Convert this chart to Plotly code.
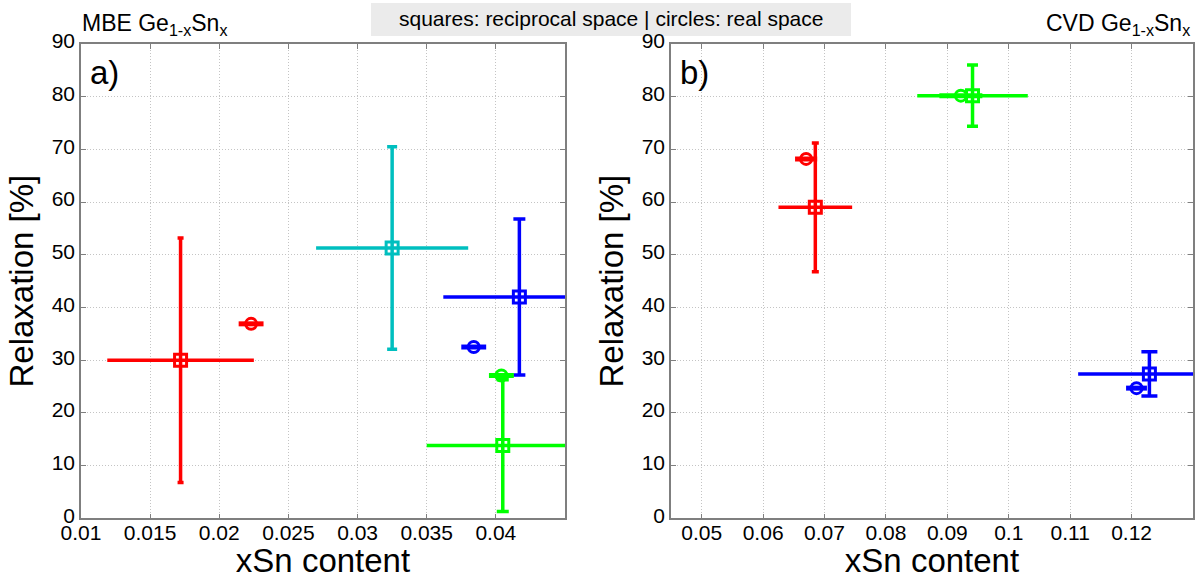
import plotly.graph_objects as go

W, H = 1197, 579

COLORS = {"red": "#FF0000", "green": "#00FF00", "blue": "#0000FF", "cyan": "#00BFBF"}

# ---- Panel a) MBE GeSn ----
A_SQ_COLOR = ["red", "cyan", "blue", "green"]
A_SQ_X = [0.0172, 0.0325, 0.0417, 0.0405]
A_SQ_Y = [30.0, 51.3, 42.0, 13.8]
A_SQ_XERR = [0.0053, 0.0055, 0.0055, 0.0055]
A_SQ_YERR = [23.2, 19.2, 14.8, 12.5]

A_CI_COLOR = ["red", "blue", "green"]
A_CI_X = [0.0223, 0.0384, 0.0404]
A_CI_Y = [36.9, 32.5, 27.1]
A_CI_XERR = [0.0009, 0.0009, 0.0009]

# ---- Panel b) CVD GeSn ----
B_SQ_COLOR = ["red", "green", "blue"]
B_SQ_X = [0.0685, 0.0941, 0.1229]
B_SQ_Y = [59.0, 80.2, 27.4]
B_SQ_XERR = [0.0060, 0.0090, 0.0116]
B_SQ_YERR = [12.2, 5.8, 4.2]

B_CI_COLOR = ["red", "green", "blue"]
B_CI_X = [0.0670, 0.0922, 0.1208]
B_CI_Y = [68.2, 80.2, 24.7]
B_CI_XERR = [0.0018, 0.0035, 0.0017]

A_XTICKS = [0.01, 0.015, 0.02, 0.025, 0.03, 0.035, 0.04]
A_XTICKTEXT = ["0.01", "0.015", "0.02", "0.025", "0.03", "0.035", "0.04"]
B_XTICKS = [0.05, 0.06, 0.07, 0.08, 0.09, 0.1, 0.11, 0.12]
B_XTICKTEXT = ["0.05", "0.06", "0.07", "0.08", "0.09", "0.1", "0.11", "0.12"]
YTICKS = [0, 10, 20, 30, 40, 50, 60, 70, 80, 90]

# style-only lists (cap half-widths in px)
A_SQ_CAP = [3, 5, 6, 6]
B_SQ_CAP = [3.5, 5.5, 8]

FONT = "Liberation Sans, Arial, sans-serif"

fig = go.Figure()


def add_squares(xs, ys, xe, ye, cols, caps, xa, ya):
    for x, y, ex, ey, c, cap in zip(xs, ys, xe, ye, cols, caps):
        col = COLORS[c]
        fig.add_trace(go.Scatter(
            x=[x], y=[y], mode="markers", xaxis=xa, yaxis=ya, showlegend=False,
            marker=dict(symbol="square-open", size=12, color=col, line=dict(width=3, color=col)),
            error_x=dict(type="data", array=[ex], color=col, thickness=3.5, width=0),
            error_y=dict(type="data", array=[ey], color=col, thickness=3.5, width=cap),
        ))


def add_circles(xs, ys, xe, cols, xa, ya):
    for x, y, ex, c in zip(xs, ys, xe, cols):
        col = COLORS[c]
        fig.add_trace(go.Scatter(
            x=[x], y=[y], mode="markers", xaxis=xa, yaxis=ya, showlegend=False,
            marker=dict(symbol="circle-open", size=11, color=col, line=dict(width=3, color=col)),
            error_x=dict(type="data", array=[ex], color=col, thickness=5, width=0),
        ))


add_squares(A_SQ_X, A_SQ_Y, A_SQ_XERR, A_SQ_YERR, A_SQ_COLOR, A_SQ_CAP, "x", "y")
add_circles(A_CI_X, A_CI_Y, A_CI_XERR, A_CI_COLOR, "x", "y")
add_squares(B_SQ_X, B_SQ_Y, B_SQ_XERR, B_SQ_YERR, B_SQ_COLOR, B_SQ_CAP, "x2", "y2")
add_circles(B_CI_X, B_CI_Y, B_CI_XERR, B_CI_COLOR, "x2", "y2")

ydom = [1 - 518.3 / H, 1 - 44 / H]

common_x = dict(
    showgrid=True, gridcolor="#c4c4c4", griddash="1px,2px", gridwidth=1,
    showline=True, linecolor="#7f7f7f", linewidth=1.5, mirror="ticks",
    ticks="inside", ticklen=5, tickcolor="#7f7f7f", zeroline=False,
    tickfont=dict(size=21, color="black", family=FONT), ticklabelstandoff=-5,
    title=dict(text="xSn content", font=dict(size=33, color="black", family=FONT), standoff=2),
    automargin=False,
)
common_y = dict(
    showgrid=True, gridcolor="#c4c4c4", griddash="1px,2px", gridwidth=1,
    showline=True, linecolor="#7f7f7f", linewidth=1.5, mirror="ticks",
    ticks="inside", ticklen=5, tickcolor="#7f7f7f", zeroline=False,
    tickfont=dict(size=21, color="black", family=FONT), ticklabelshift=-3,
    title=dict(text="Relaxation [%]", font=dict(size=33, color="black", family=FONT), standoff=8),
    range=[0, 90], tickvals=YTICKS, domain=ydom, automargin=False,
)

fig.update_layout(
    width=W, height=H,
    margin=dict(l=0, r=0, t=0, b=0),
    paper_bgcolor="white", plot_bgcolor="white",
    font=dict(family=FONT, color="black"),
    xaxis=dict(common_x, domain=[81 / W, 565 / W], range=[0.01, 0.045],
               tickvals=A_XTICKS, ticktext=A_XTICKTEXT, anchor="y"),
    yaxis=dict(common_y, anchor="x"),
    xaxis2=dict(common_x, domain=[671 / W, 1193 / W], range=[0.045, 0.13],
                tickvals=B_XTICKS, ticktext=B_XTICKTEXT, anchor="y2"),
    yaxis2=dict(common_y, anchor="x2"),
    showlegend=False,
)

fig.add_shape(type="rect", xref="paper", yref="paper",
              x0=371 / W, x1=851 / W, y0=1 - 36 / H, y1=1 - 3 / H,
              fillcolor="#EBEBEB", line=dict(width=0), layer="below")

annots = [
    dict(text="squares: reciprocal space | circles: real space", x=611 / W, y=1 - 19 / H,
         xanchor="center", yanchor="middle", font=dict(size=21)),
    dict(text="MBE Ge<sub>1-x</sub>Sn<sub>x</sub>", x=80 / W, y=1 - 24 / H,
         xanchor="left", yanchor="middle", font=dict(size=23)),
    dict(text="CVD Ge<sub>1-x</sub>Sn<sub>x</sub>", x=1192 / W, y=1 - 24 / H,
         xanchor="right", yanchor="middle", font=dict(size=23)),
    dict(text="a)", x=88 / W, y=1 - 73 / H, xanchor="left", yanchor="middle", font=dict(size=33)),
    dict(text="b)", x=678 / W, y=1 - 73 / H, xanchor="left", yanchor="middle", font=dict(size=33)),
]
for a in annots:
    fig.add_annotation(xref="paper", yref="paper", showarrow=False,
                       font_family=FONT, font_color="black", **a)

fig.write_html("out.html", config={"displayModeBar": False},
               post_script="document.body.style.margin='0';document.body.style.overflow='hidden';")
